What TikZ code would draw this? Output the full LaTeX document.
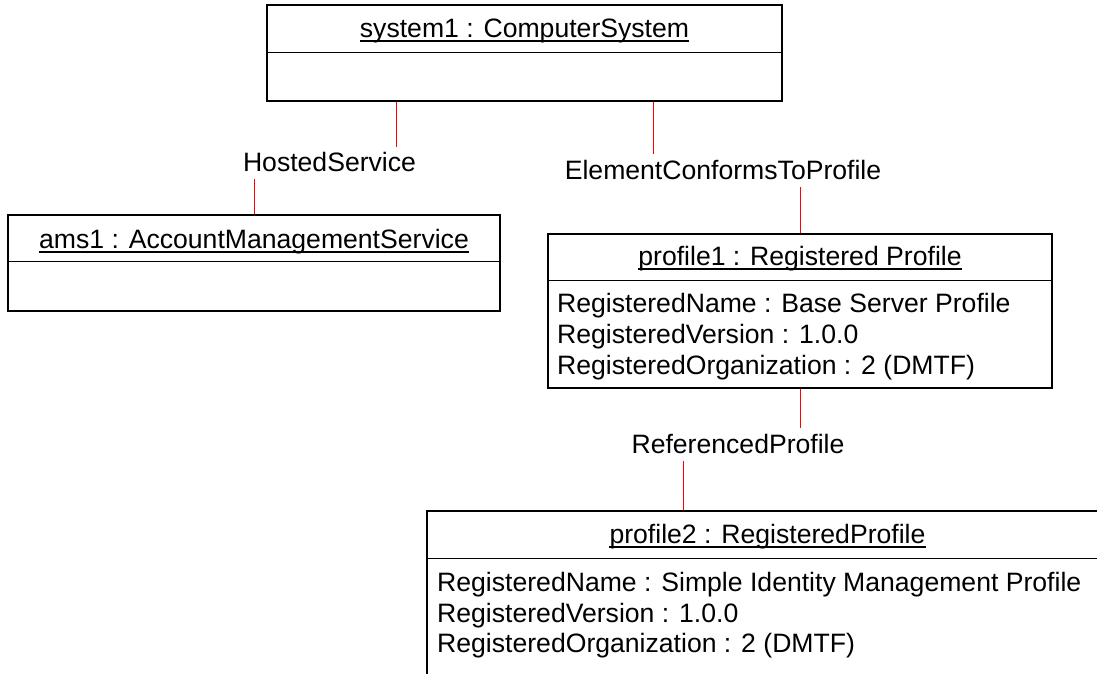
\documentclass[tikz,border=0pt]{standalone}
\usepackage{fontspec}
\setmainfont{Liberation Sans}
\begin{document}
\begin{tikzpicture}[x=1pt,y=-1pt,
  box/.style={draw=black, line width=1.3pt, inner sep=0pt},
  assoc/.style={draw=red, line width=1pt},
  txt/.style={font=\fontsize{26.6}{31}\selectfont, inner sep=0pt, text=black},
  title/.style={txt, anchor=base},
  attr/.style={txt, anchor=base west},
  lbl/.style={txt, anchor=base},
  divider/.style={draw=black, line width=1.3pt},
  uline/.style={draw=black, line width=1.2pt}]
\useasboundingbox (0,0) rectangle (1097,673);
\begin{scope}
\clip (0,0) rectangle (1097,673);
% boxes
\node[box, minimum width=515pt, minimum height=96pt] (sys) at (524.5,53) {};
\node[box, minimum width=492pt, minimum height=96pt] (ams) at (254,263) {};
\node[box, minimum width=504pt, minimum height=154pt] (pr1) at (800,311) {};
\node[box, minimum width=681pt, minimum height=209pt] (pr2) at (767.5,615.5) {};
% dividers
\draw[divider] ([yshift=-48pt]sys.north west) -- ([yshift=-48pt]sys.north east);
\draw[divider] ([yshift=-47pt]ams.north west) -- ([yshift=-47pt]ams.north east);
\draw[divider] ([yshift=-47pt]pr1.north west) -- ([yshift=-47pt]pr1.north east);
\draw[divider] ([yshift=-48pt]pr2.north west) -- ([yshift=-48pt]pr2.north east);
% titles
\node[title] (t1) at (524.5,37) {system1 : ComputerSystem};
\node[title] (t2) at (254,248) {ams1 : AccountManagementService};
\node[title] (t3) at (800,265) {profile1 : Registered Profile};
\node[title] (t4) at (767.5,543) {profile2 : RegisteredProfile};
\foreach \n in {t1,t2,t3,t4}
  \draw[uline] ([yshift=-4pt]\n.base west) -- ([yshift=-4pt]\n.base east);
% attributes
\node[attr] (a11) at (557,312) {RegisteredName : Base Server Profile};
\node[attr] (a12) at (557,343) {RegisteredVersion : 1.0.0};
\node[attr] (a13) at (557,374) {RegisteredOrganization : 2 (DMTF)};
\node[attr] (a21) at (437,591) {RegisteredName : Simple Identity Management Profile};
\node[attr] (a22) at (437,622) {RegisteredVersion : 1.0.0};
\node[attr] (a23) at (437,652) {RegisteredOrganization : 2 (DMTF)};
% association labels
\node[lbl] (hs) at (329.5,171) {HostedService};
\node[lbl] (ec) at (723,179) {ElementConformsToProfile};
\node[lbl] (rp) at (738,453) {ReferencedProfile};
% connector end points
\coordinate (hs1) at (396,147);
\coordinate (hs2) at (254,179);
\coordinate (ec1) at (653,154);
\coordinate (ec2) at (800,187);
\coordinate (rp1) at (800,428);
\coordinate (rp2) at (683,461);
% connectors
\draw[assoc] (sys.south -| hs1) -- (hs1);
\draw[assoc] (hs2) -- (hs2 |- ams.north);
\draw[assoc] (sys.south -| ec1) -- (ec1);
\draw[assoc] (ec2) -- (ec2 |- pr1.north);
\draw[assoc] (pr1.south -| rp1) -- (rp1);
\draw[assoc] (rp2) -- (rp2 |- pr2.north);
\end{scope}
\end{tikzpicture}
\end{document}
